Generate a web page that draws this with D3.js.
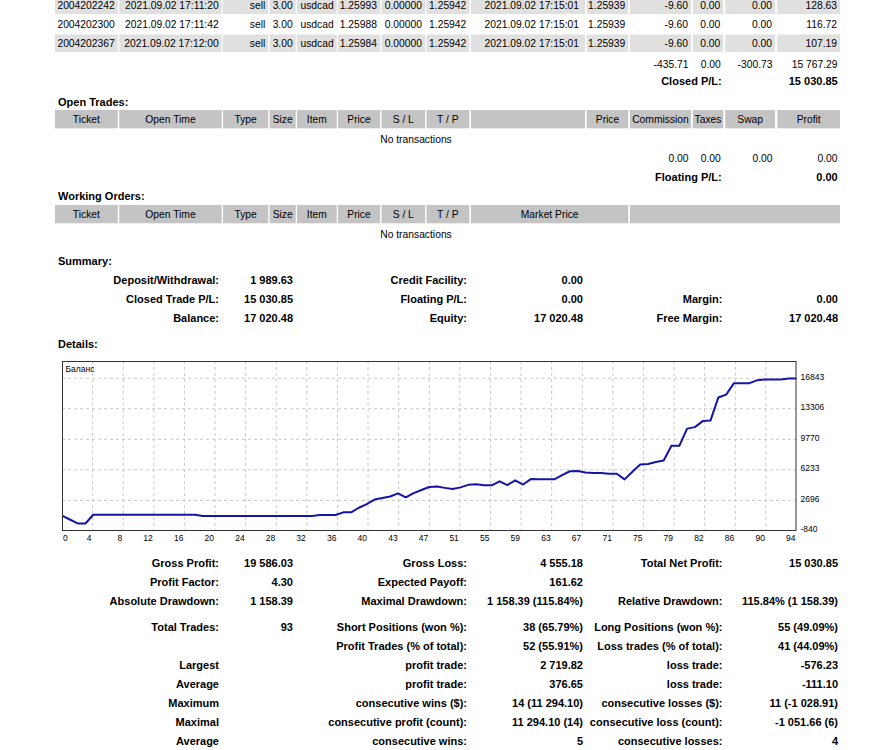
<!DOCTYPE html>
<html><head><meta charset="utf-8">
<script src="https://cdn.jsdelivr.net/npm/d3@7"></script>
<style>
body{margin:0;background:#fff}
svg{display:block}
text{font-family:"Liberation Sans",Arial,sans-serif;fill:#000}
</style>
</head><body>
<svg id="page" width="887" height="750"></svg>
<script>
// ---------------- DATA ----------------
const tradeRows = [
  ["2004202242","2021.09.02 17:11:20","sell","3.00","usdcad","1.25993","0.00000","1.25942","2021.09.02 17:15:01","1.25939","-9.60","0.00","0.00","128.63"],
  ["2004202300","2021.09.02 17:11:42","sell","3.00","usdcad","1.25988","0.00000","1.25942","2021.09.02 17:15:01","1.25939","-9.60","0.00","0.00","116.72"],
  ["2004202367","2021.09.02 17:12:00","sell","3.00","usdcad","1.25984","0.00000","1.25942","2021.09.02 17:15:01","1.25939","-9.60","0.00","0.00","107.19"]
];
const closedTotals = ["-435.71","0.00","-300.73","15 767.29"];
const closedPL = ["Closed P/L:","15 030.85"];
const openHeaders = ["Ticket","Open Time","Type","Size","Item","Price","S / L","T / P","","Price","Commission","Taxes","Swap","Profit"];
const openTotals = ["0.00","0.00","0.00","0.00"];
const floatingPL = ["Floating P/L:","0.00"];
const workingHeaders = ["Ticket","Open Time","Type","Size","Item","Price","S / L","T / P","Market Price",""];
const summaryRows = [
  ["Deposit/Withdrawal:","1 989.63","Credit Facility:","0.00","",""],
  ["Closed Trade P/L:","15 030.85","Floating P/L:","0.00","Margin:","0.00"],
  ["Balance:","17 020.48","Equity:","17 020.48","Free Margin:","17 020.48"]
];
const statsRows = [
  ["Gross Profit:","19 586.03","Gross Loss:","4 555.18","Total Net Profit:","15 030.85"],
  ["Profit Factor:","4.30","Expected Payoff:","161.62","",""],
  ["Absolute Drawdown:","1 158.39","Maximal Drawdown:","1 158.39 (115.84%)","Relative Drawdown:","115.84% (1 158.39)"],
  ["Total Trades:","93","Short Positions (won %):","38 (65.79%)","Long Positions (won %):","55 (49.09%)"],
  ["","","Profit Trades (% of total):","52 (55.91%)","Loss trades (% of total):","41 (44.09%)"],
  ["Largest","","profit trade:","2 719.82","loss trade:","-576.23"],
  ["Average","","profit trade:","376.65","loss trade:","-111.10"],
  ["Maximum","","consecutive wins ($):","14 (11 294.10)","consecutive losses ($):","11 (-1 028.91)"],
  ["Maximal","","consecutive profit (count):","11 294.10 (14)","consecutive loss (count):","-1 051.66 (6)"],
  ["Average","","consecutive wins:","5","consecutive losses:","4"]
];
const chartTitle = "Баланс";
const balance = [930,490,30,30,
  1040,1040,1040,1040,1040,1040,1040,1040,1040,1040,1040,1040,1040,1040,
  895,895,895,895,895,895,895,895,895,895,895,895,895,895,895,
  1010,1010,1010,
  1320,1320,1850,2280,2800,2975,3150,3520,3060,3550,3900,4250,4300,4150,4015,4210,
  4500,4570,4443,4443,4905,4478,5021,4535,5171,5137,5137,5137,5634,6073,6096,5923,
  5865,5865,5784,5784,5137,6015,6847,6905,7136,7310,9021,9021,11009,11182,11876,11957,
  14616,14939,16269,16269,16269,16616,16697,16697,16697,16812,16812];
const xTickLabels = [0,4,8,12,16,20,24,28,32,36,40,43,47,51,55,59,63,67,71,75,79,82,86,90,94];
const yTickValues = [-840,2696,6233,9770,13306,16843];

// ---------------- LAYOUT ----------------
const svg = d3.select("#page");
const HEAD = "#c4c4c4", ALT = "#e0e0e0";
const cols = [[55,117.7],[119.3,221.7],[223,268.3],[269.7,295.7],[297,336.7],[338,380],[381.5,425],[426.5,469.3],[471,585],[586.7,628.3],[630,691],[692.7,723.3],[725.3,775],[777.3,840]];
const wcols = cols.slice(0,8).concat([[471,628.3],[630,840]]);

function txt(x,y,s,anchor,bold,size){
  return svg.append("text").attr("x",x).attr("y",y).attr("dy","0.35em")
    .attr("text-anchor",anchor||"start")
    .style("font-size",(size||(bold?11:10.3))+"px")
    .style("font-weight",bold?"bold":"normal").text(s);
}

// trade rows
const rowY = [5.3,24.7,43.3];
tradeRows.forEach((row,ri)=>{
  const yc = rowY[ri];
  if(ri%2===0){
    svg.selectAll(null).data(cols).enter().append("rect")
      .attr("x",d=>d[0]).attr("width",d=>d[1]-d[0])
      .attr("y",yc-8.8).attr("height",17.5).attr("fill",ALT);
  }
  row.forEach((v,ci)=>{
    const xr = ci===8 ? 579 : cols[ci][1]-3;
    txt(xr,yc,v,"end",false);
  });
});
closedTotals.forEach((v,i)=>txt(cols[10+i][1]-2.5,64,v,"end",false));
txt(721.7,81.3,closedPL[0],"end",true);
txt(837.7,81.3,closedPL[1],"end",true);

// open trades
txt(58,101.7,"Open Trades:","start",true);
svg.selectAll(null).data(cols).enter().append("rect")
  .attr("x",d=>d[0]).attr("width",d=>d[1]-d[0]).attr("y",110).attr("height",18.3).attr("fill",HEAD);
openHeaders.forEach((h,i)=>{ if(h) txt((cols[i][0]+cols[i][1])/2,119.3,h,"middle",false); });
txt(416,139.3,"No transactions","middle",false);
openTotals.forEach((v,i)=>txt(cols[10+i][1]-2.5,158.3,v,"end",false));
txt(721.7,177.3,floatingPL[0],"end",true);
txt(837.7,177.3,floatingPL[1],"end",true);

// working orders
txt(58,196,"Working Orders:","start",true);
svg.selectAll(null).data(wcols).enter().append("rect")
  .attr("x",d=>d[0]).attr("width",d=>d[1]-d[0]).attr("y",205).attr("height",18.3).attr("fill",HEAD);
workingHeaders.forEach((h,i)=>{ if(h) txt((wcols[i][0]+wcols[i][1])/2,214.2,h,"middle",false); });
txt(416,234,"No transactions","middle",false);

// summary
txt(58,261,"Summary:","start",true);
const colRights = [219,293,467,583,722.5,838];
summaryRows.forEach((row,ri)=>{
  row.forEach((v,ci)=>{ if(v) txt(colRights[ci],280+ri*19,v,"end",true); });
});

// details
txt(58,344,"Details:","start",true);

// stats
const statY = [563,582,601,627,646,665,684,703,722,741];
statsRows.forEach((row,ri)=>{
  row.forEach((v,ci)=>{ if(v) txt(colRights[ci],statY[ri],v,"end",true); });
});

// ---------------- CHART ----------------
const L=62, R=796.5, T=361, B=531;
const x = d3.scaleLinear().domain([0,balance.length-1]).range([L,R]);
const y = d3.scaleLinear().domain([yTickValues[0],yTickValues[yTickValues.length-1]]).range([B,378.2]);
const g = svg.append("g");
g.append("rect").attr("x",L).attr("y",T).attr("width",R-L).attr("height",B-T).attr("fill","#fff");
const nG = xTickLabels.length-1;
const gx = d3.scaleLinear().domain([0,nG]).range([L,R]);
g.selectAll(null).data(d3.range(1,nG)).enter().append("line")
  .attr("x1",d=>gx(d)).attr("x2",d=>gx(d)).attr("y1",T).attr("y2",B)
  .attr("stroke","#c8c8c8").attr("stroke-dasharray","3,3").attr("stroke-width",1);
g.selectAll(null).data(yTickValues.slice(1)).enter().append("line")
  .attr("x1",L).attr("x2",R).attr("y1",d=>y(d)).attr("y2",d=>y(d))
  .attr("stroke","#c8c8c8").attr("stroke-dasharray","3,3").attr("stroke-width",1);
g.append("path").datum(balance)
  .attr("d",d3.line().x((d,i)=>x(i)).y(d=>y(d)))
  .attr("fill","none").attr("stroke","#1414a8").attr("stroke-width",2).attr("stroke-linejoin","round");
g.append("rect").attr("x",L+0.5).attr("y",T+0.5).attr("width",R-L-1).attr("height",B-T-1)
  .attr("fill","none").attr("stroke","#333").attr("stroke-width",1);
yTickValues.forEach(v=>{
  txt(R+4,y(v)-1.5,String(v),"start",false,8.5);
});
xTickLabels.forEach((lab,k)=>{
  if(k===0) txt(L+1,538,String(lab),"start",false,8.5);
  else txt(gx(k)-1,538,String(lab),"end",false,8.5);
});
txt(65.5,369.5,chartTitle,"start",false,8.5);
</script>
</body></html>
